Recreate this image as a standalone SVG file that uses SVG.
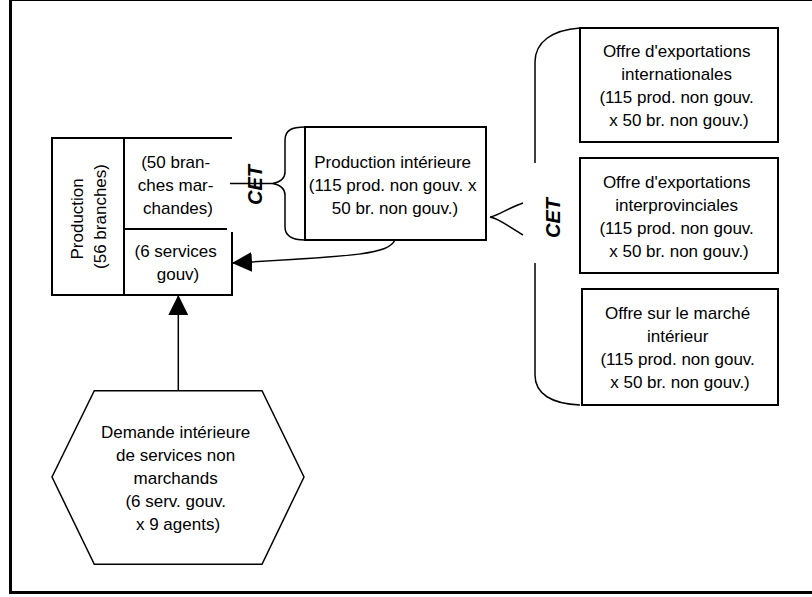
<svg xmlns="http://www.w3.org/2000/svg" width="812" height="597" viewBox="0 0 812 597">
  <defs>
    <marker id="arrow" markerWidth="20" markerHeight="20" refX="19" refY="10" orient="auto" markerUnits="userSpaceOnUse">
      <path d="M0,0 L20,10 L0,20 Z" fill="#000"/>
    </marker>
    <style>
      .box { fill: #fff; stroke: #000; stroke-width: 2; }
      .ln { fill: none; stroke: #000; stroke-width: 2; }
      .thin { fill: none; stroke: #000; stroke-width: 1.5; }
      .lbl { font-family: "Liberation Sans", Arial, sans-serif; font-size: 17px; fill: #000; text-anchor: middle; }
      .cet { font-family: "Liberation Sans", Arial, sans-serif; font-size: 20px; font-weight: bold; font-style: italic; fill: #000; text-anchor: middle; }
    </style>
  </defs>

  <rect width="812" height="597" fill="#fff"/>

  <!-- outer frame with shadowed left and bottom edges -->
  <g id="frame">
    <line x1="10" y1="0.5" x2="812" y2="0.5" stroke="#000" stroke-width="1"/>
    <line x1="10.5" y1="0" x2="10.5" y2="594" stroke="#000" stroke-width="3"/>
    <line x1="9" y1="592.5" x2="812" y2="592.5" stroke="#000" stroke-width="3"/>
  </g>

  <!-- Production (56 branches) -->
  <g id="production">
    <rect class="box" x="52" y="138" width="72" height="157"/>
    <line class="ln" x1="124" y1="138" x2="232" y2="138"/>
    <line class="ln" x1="124" y1="295" x2="233" y2="295"/>
    <line class="ln" x1="124" y1="229" x2="227" y2="229"/>
    <line class="ln" x1="232" y1="232" x2="232" y2="296"/>
    <text class="lbl" transform="translate(88,216.5) rotate(-90)">
      <tspan x="0" y="-5.5">Production</tspan>
      <tspan x="0" y="17.5">(56 branches)</tspan>
    </text>
    <text class="lbl">
      <tspan x="178" y="167.5">(50 bran-</tspan>
      <tspan x="178" y="190.5">ches mar-</tspan>
      <tspan x="178" y="213.5">chandes)</tspan>
    </text>
    <text class="lbl">
      <tspan x="178" y="257">(6 services</tspan>
      <tspan x="178" y="280">gouv)</tspan>
    </text>
  </g>

  <!-- Production intérieure -->
  <g id="production-interieure">
    <rect class="box" x="305" y="127" width="181" height="113"/>
    <text class="lbl">
      <tspan x="395" y="168">Production intérieure</tspan>
      <tspan x="395" y="191">(115 prod. non gouv. x</tspan>
      <tspan x="395" y="214">50 br. non gouv.)</tspan>
    </text>
  </g>

  <!-- export and domestic supply boxes -->
  <g id="offre-internationale">
    <rect class="box" x="580" y="28" width="198" height="114"/>
    <text class="lbl">
      <tspan x="679" y="56.5">Offre d'exportations</tspan>
      <tspan x="679" y="79.5">internationales</tspan>
      <tspan x="679" y="102.5">(115 prod. non gouv.</tspan>
      <tspan x="679" y="125.5">x 50 br. non gouv.)</tspan>
    </text>
  </g>

  <g id="offre-interprovinciale">
    <rect class="box" x="580" y="158" width="198" height="115"/>
    <text class="lbl">
      <tspan x="679" y="187.7">Offre d'exportations</tspan>
      <tspan x="679" y="210.7">interprovinciales</tspan>
      <tspan x="679" y="233.7">(115 prod. non gouv.</tspan>
      <tspan x="679" y="256.7">x 50 br. non gouv.)</tspan>
    </text>
  </g>

  <g id="offre-marche-interieur">
    <rect class="box" x="582" y="289" width="196" height="116"/>
    <text class="lbl">
      <tspan x="680" y="319">Offre sur le marché</tspan>
      <tspan x="680" y="342">intérieur</tspan>
      <tspan x="680" y="365">(115 prod. non gouv.</tspan>
      <tspan x="680" y="388">x 50 br. non gouv.)</tspan>
    </text>
  </g>

  <!-- Demande intérieure de services non marchands -->
  <g id="demande-interieure">
    <polygon class="thin" fill="#fff" points="94.3,390.7 262,390.7 304,477 262,564.3 94.3,564.3 52,477"/>
    <text class="lbl">
      <tspan x="178" y="438">Demande intérieure</tspan>
      <tspan x="178" y="461">de services non</tspan>
      <tspan x="178" y="484">marchands</tspan>
      <tspan x="178" y="507">(6 serv. gouv.</tspan>
      <tspan x="178" y="530">x 9 agents)</tspan>
    </text>
  </g>

  <!-- connectors: CET braces and arrows -->
  <g id="connectors">
    <!-- left CET brace -->
    <line class="thin" x1="230" y1="183.5" x2="274" y2="183.5"/>
    <path class="thin" d="M305,127 C292,127 285,130 285,140 L285,172 C285,178 280,182 273,183.5 C280,185 285,189 285,195 L285,227 C285,236 292,240 305,240"/>
    <text class="cet" transform="translate(254.5,185) rotate(-90)" x="0" y="7">CET</text>

    <!-- right CET brace -->
    <path class="thin" d="M580,28 C552,30 535,42 535,62 L535,163"/>
    <path class="thin" d="M535,263 L535,375 C535,394 552,404 580,405"/>
    <path class="thin" d="M523,203 C508,208 498,216 490,217 C498,218 508,226 523,235"/>
    <text class="cet" transform="translate(552.5,218) rotate(-90)" x="0" y="7">CET</text>

    <!-- Production intérieure to government services -->
    <path class="thin" d="M395,240 C388,254 360,256 233,263" marker-end="url(#arrow)"/>

    <!-- demand to government services -->
    <line class="thin" x1="178.3" y1="390.7" x2="178.3" y2="296" marker-end="url(#arrow)"/>
  </g>
</svg>
